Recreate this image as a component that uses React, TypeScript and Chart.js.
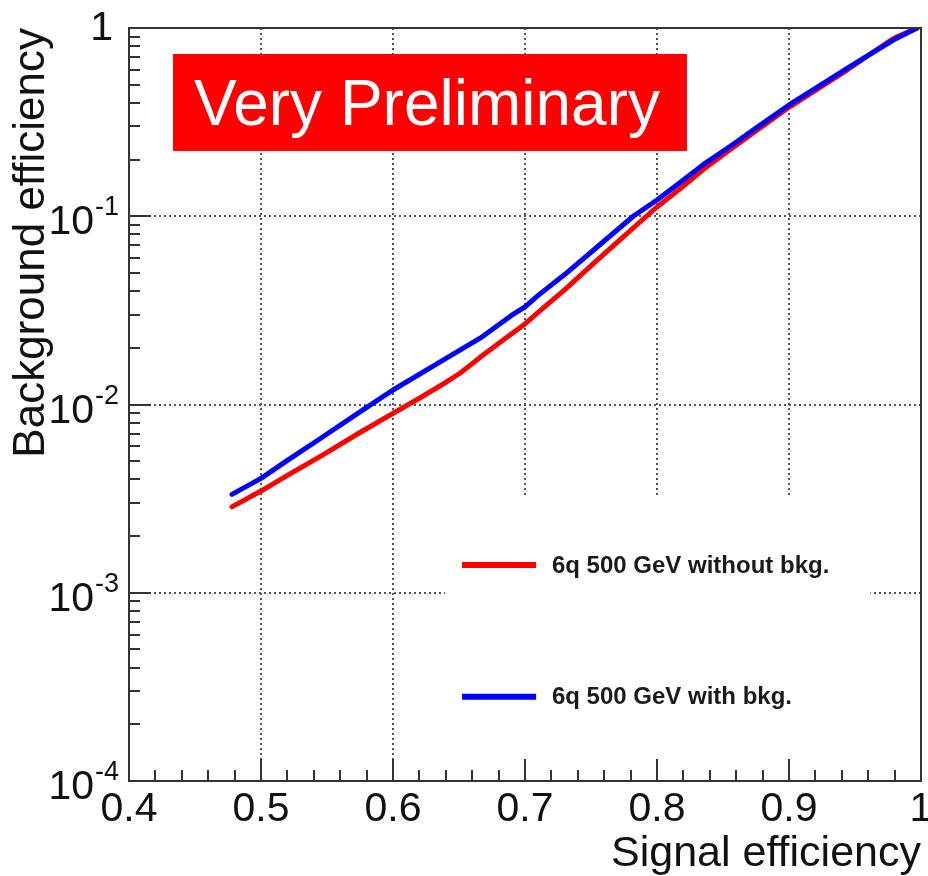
import React, { useEffect, useRef } from "react";
import { Chart, registerables } from "chart.js";

Chart.register(...registerables);

// ---- data ----
const sigWithout = [0.478, 0.5, 0.52, 0.545, 0.575, 0.6, 0.62, 0.64, 0.651, 0.666, 0.685, 0.7, 0.715, 0.73, 0.752, 0.77, 0.792, 0.8, 0.817, 0.835, 0.855, 0.875, 0.9, 0.92, 0.944, 0.96, 0.979, 0.997];
const bkgWithout = [0.00286, 0.00347, 0.0042, 0.0053, 0.0071, 0.00898, 0.0108, 0.0131, 0.0147, 0.0178, 0.0224, 0.0268, 0.0331, 0.0406, 0.0562, 0.0729, 0.1, 0.112, 0.139, 0.177, 0.225, 0.284, 0.379, 0.466, 0.598, 0.714, 0.88, 1.0];

const sigWith = [0.478, 0.5, 0.52, 0.545, 0.575, 0.6, 0.631, 0.651, 0.666, 0.69, 0.7, 0.71, 0.73, 0.752, 0.782, 0.8, 0.817, 0.835, 0.855, 0.875, 0.9, 0.92, 0.944, 0.96, 0.979, 0.997];
const bkgWith = [0.00333, 0.00405, 0.00505, 0.0066, 0.00914, 0.01194, 0.0161, 0.0195, 0.0225, 0.0298, 0.033, 0.038, 0.049, 0.0662, 0.1, 0.122, 0.15, 0.188, 0.234, 0.294, 0.39, 0.478, 0.611, 0.716, 0.863, 1.0];

const seriesLabels = ["6q 500 GeV without bkg.", "6q 500 GeV with bkg."];
const seriesColors = ["#ff0000", "#0000ff"];

const xMin = 0.4;
const xMax = 1.0;
const xStep = 0.1;
const xMinorStep = 0.02;
const yDecades = [1, 0.1, 0.01, 0.001, 0.0001];
const yExponents = ["", "-1", "-2", "-3", "-4"];

const xTitle = "Signal efficiency";
const yTitle = "Background efficiency";
const stampText = "Very Preliminary";

const FONT = "'Liberation Sans', Arial, Helvetica, sans-serif";
const AXIS_COLOR = "#333333";
const GRID_COLOR = "#555555";

const isDecade = (v: number | undefined) => {
  if (v === undefined || v <= 0) return false;
  const l = Math.log10(v);
  return Math.abs(l - Math.round(l)) < 1e-6;
};

const rootStyle = {
  id: "rootStyle",
  afterDatasetsDraw(chart: any) {
    const { ctx, chartArea: a, scales } = chart;
    const xs = scales.x;
    const ys = scales.y;
    const W = a.right - a.left;
    const H = a.bottom - a.top;
    ctx.save();

    // legend box (white, hides grid)
    const lx0 = a.left + 0.399 * W;
    const lx1 = a.left + 0.936 * W;
    const ly0 = a.top + 0.623 * H;
    ctx.fillStyle = "#ffffff";
    ctx.fillRect(lx0, ly0, lx1 - lx0, a.bottom - ly0);

    const entryY = [a.top + 0.713 * H, a.top + 0.888 * H];
    const lineX0 = a.left + 0.4205 * W;
    const lineX1 = a.left + 0.514 * W;
    const textX = a.left + 0.534 * W;
    seriesLabels.forEach((lab, i) => {
      ctx.strokeStyle = seriesColors[i];
      ctx.lineWidth = 6;
      ctx.lineCap = "butt";
      ctx.beginPath();
      ctx.moveTo(lineX0, entryY[i]);
      ctx.lineTo(lineX1, entryY[i]);
      ctx.stroke();
      ctx.fillStyle = "#1a1a1a";
      ctx.font = `bold 24px ${FONT}`;
      ctx.textAlign = "left";
      ctx.textBaseline = "middle";
      ctx.fillText(lab, textX, entryY[i] + 1);
    });

    // "Very Preliminary" stamp
    const bx0 = a.left + 0.0556 * W;
    const bx1 = a.left + 0.7045 * W;
    const by0 = a.top + 0.0345 * H;
    const by1 = a.top + 0.1633 * H;
    ctx.fillStyle = "#ff0000";
    ctx.fillRect(bx0, by0, bx1 - bx0, by1 - by0);
    ctx.fillStyle = "#ffffff";
    ctx.font = `64px ${FONT}`;
    ctx.textAlign = "center";
    ctx.textBaseline = "alphabetic";
    ctx.fillText(stampText, (bx0 + bx1) / 2 - 3, a.top + 0.1288 * H);

    // frame
    ctx.strokeStyle = AXIS_COLOR;
    ctx.lineWidth = 2;
    ctx.strokeRect(a.left, a.top, W, H);

    // inner ticks, x axis
    ctx.beginPath();
    const nx = Math.round((xMax - xMin) / xMinorStep);
    const perMajor = Math.round(xStep / xMinorStep);
    for (let i = 0; i <= nx; i++) {
      const v = xMin + i * xMinorStep;
      const px = Math.round(xs.getPixelForValue(v));
      const len = i % perMajor === 0 ? 22 : 11;
      ctx.moveTo(px, a.bottom);
      ctx.lineTo(px, a.bottom - len);
    }
    // inner ticks, y axis (log)
    for (let d = -4; d <= 0; d++) {
      for (let k = 1; k <= 9; k++) {
        const v = k * Math.pow(10, d);
        if (v > 1.0000001) break;
        const py = Math.round(ys.getPixelForValue(v));
        const len = k === 1 ? 22 : 11;
        ctx.moveTo(a.left, py);
        ctx.lineTo(a.left + len, py);
      }
    }
    ctx.stroke();

    // y tick labels with superscript exponents
    ctx.fillStyle = "#111111";
    ctx.textAlign = "right";
    ctx.textBaseline = "alphabetic";
    yDecades.forEach((v, i) => {
      const py = ys.getPixelForValue(v);
      const ex = yExponents[i];
      if (!ex) {
        ctx.font = `41px ${FONT}`;
        ctx.fillText("1", a.left - 16, py + 12);
      } else {
        ctx.font = `27px ${FONT}`;
        const ew = ctx.measureText(ex).width;
        ctx.fillText(ex, a.left - 10, py - 1);
        ctx.font = `41px ${FONT}`;
        ctx.fillText("10", a.left - 10 - ew - 1, py + 18);
      }
    });

    ctx.restore();
  },
};

export default function App() {
  const ref = useRef<HTMLCanvasElement>(null);

  useEffect(() => {
    if (!ref.current) return;
    const chart = new Chart(ref.current, {
      type: "line",
      data: {
        datasets: [
          {
            label: seriesLabels[0],
            data: sigWithout.map((s, i) => ({ x: s, y: bkgWithout[i] })),
            borderColor: seriesColors[0],
            backgroundColor: seriesColors[0],
            borderWidth: 5,
            pointRadius: 0,
            tension: 0,
            borderCapStyle: "round",
            borderJoinStyle: "round",
            fill: false,
            order: 1,
          },
          {
            label: seriesLabels[1],
            data: sigWith.map((s, i) => ({ x: s, y: bkgWith[i] })),
            borderColor: seriesColors[1],
            backgroundColor: seriesColors[1],
            borderWidth: 5,
            pointRadius: 0,
            tension: 0,
            borderCapStyle: "round",
            borderJoinStyle: "round",
            fill: false,
            order: 0,
          },
        ],
      },
      options: {
        animation: false,
        responsive: false,
        events: [],
        layout: { padding: { top: 28, right: 7, left: 0, bottom: 0 } },
        plugins: { legend: { display: false }, tooltip: { enabled: false } },
        scales: {
          x: {
            type: "linear",
            min: xMin,
            max: xMax,
            afterFit: (s: any) => {
              s.height = 95;
              s.paddingLeft = 0;
              s.paddingRight = 0;
            },
            ticks: {
              stepSize: xStep,
              font: { family: FONT, size: 41 },
              color: "#111111",
              padding: 4,
              maxRotation: 0,
              autoSkip: false,
              callback: (v: any) => String(Math.round(Number(v) * 10) / 10),
            },
            grid: { color: GRID_COLOR, lineWidth: 2, drawTicks: false },
            border: { display: false, dash: [2, 3] },
            title: {
              display: true,
              text: xTitle,
              align: "end",
              color: "#111111",
              font: { family: FONT, size: 43, lineHeight: 1 },
              padding: { top: 0, bottom: 0 },
            },
          },
          y: {
            type: "logarithmic",
            min: 1e-4,
            max: 1,
            afterFit: (s: any) => {
              s.width = 129;
            },
            ticks: { display: false },
            grid: {
              color: (c: any) => (isDecade(c.tick && c.tick.value) ? GRID_COLOR : "rgba(0,0,0,0)"),
              lineWidth: 2,
              drawTicks: false,
            },
            border: { display: false, dash: [2, 3] },
            title: {
              display: true,
              text: yTitle,
              align: "end",
              color: "#111111",
              font: { family: FONT, size: 44, lineHeight: 1.2 },
              padding: { top: 5, bottom: 0 },
            },
          },
        },
      },
      plugins: [rootStyle],
    } as any);
    return () => chart.destroy();
  }, []);

  return (
    <div style={{ position: "absolute", left: 0, top: 0, width: 928, height: 876, background: "#ffffff", overflow: "hidden" }}>
      <canvas ref={ref} width={928} height={876} style={{ display: "block", width: 928, height: 876 }} />
    </div>
  );
}
